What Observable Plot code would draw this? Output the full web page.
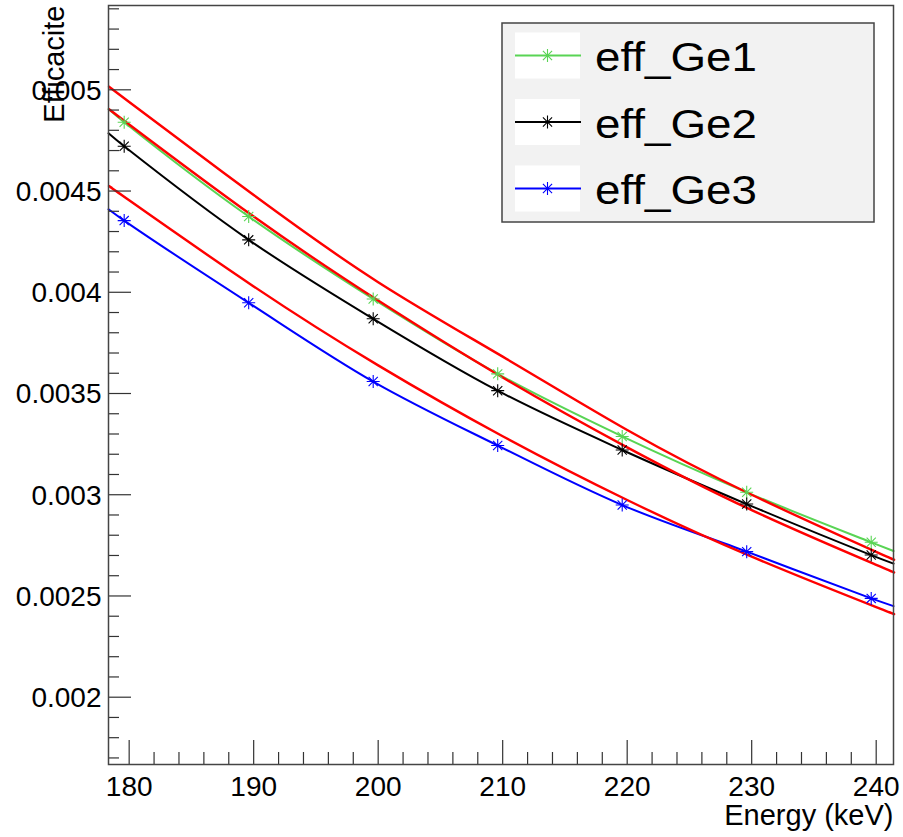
<!DOCTYPE html>
<html>
<head>
<meta charset="utf-8">
<script src="https://cdn.jsdelivr.net/npm/d3@7"></script>
<script src="https://cdn.jsdelivr.net/npm/@observablehq/plot@0.6"></script>
<style>
  html, body { margin: 0; padding: 0; background: #fff; }
  #chart { width: 903px; height: 837px; }
</style>
</head>
<body>
<div id="chart"></div>
<script>
// ---- data ----
const energies = [179.6, 189.6, 199.6, 209.6, 219.6, 229.6, 239.6];
const effGe1 = [0.004840, 0.004374, 0.003967, 0.003597, 0.003288, 0.003012, 0.002765];
const effGe2 = [0.004721, 0.004259, 0.003869, 0.003514, 0.003221, 0.002954, 0.002702];
const effGe3 = [0.004354, 0.003948, 0.003559, 0.003243, 0.002949, 0.002719, 0.002488];
// curve values where each graph line meets the frame (left, right)
const edgeX = [178.34, 241.39];
const edgeGe1 = [0.004905, 0.002722];
const edgeGe2 = [0.004785, 0.002660];
const edgeGe3 = [0.004410, 0.002450];
// red fit curves
const fitX = [178.6, 180, 190, 200, 210, 220, 230, 240, 241.05];
const fitA = [0.005005, 0.004940, 0.004480, 0.004050, 0.003682, 0.003320, 0.003000, 0.002718, 0.002690];
const fitB = [0.004894, 0.004829, 0.004374, 0.003959, 0.003579, 0.003234, 0.002924, 0.002654, 0.002626];
const fitC = [0.004516, 0.004454, 0.004029, 0.003639, 0.003289, 0.002974, 0.002694, 0.002445, 0.002420];
const seriesNames = ["eff_Ge1", "eff_Ge2", "eff_Ge3"];
const seriesColors = ["#59d454", "#000000", "#0000ff"];
const xTickValues = [180, 190, 200, 210, 220, 230, 240];
const xTickLabels = ["180", "190", "200", "210", "220", "230", "240"];
const yTickValues = [0.002, 0.0025, 0.003, 0.0035, 0.004, 0.0045, 0.005];
const yTickLabels = ["0.002", "0.0025", "0.003", "0.0035", "0.004", "0.0045", "0.005"];
const xTitle = "Energy (keV)";
const yTitle = "Efficacite";

// ---- layout ----
const W = 903, H = 837, mL = 108, mR = 10, mT = 5, mB = 73;
const xDomain = [178.34, 241.39];
const yDomain = [0.0016676, 0.0054164];
const kx = (xDomain[1] - xDomain[0]) / (W - mL - mR);
const ky = (yDomain[1] - yDomain[0]) / (H - mT - mB);

const xMinor = d3.range(180, 241.4, 2).filter(v => v % 10 !== 0);
const yMinor = d3.range(17, 55).map(v => v / 10000).filter(v => Math.round(v * 10000) % 5 !== 0);

// build tables
const graphPts = [], graphLines = [];
[effGe1, effGe2, effGe3].forEach((arr, s) => {
  const edges = [edgeGe1, edgeGe2, edgeGe3][s];
  graphLines.push({s, x: edgeX[0], y: edges[0]});
  arr.forEach((v, i) => {
    graphPts.push({s, x: energies[i], y: v});
    graphLines.push({s, x: energies[i], y: v});
  });
  graphLines.push({s, x: edgeX[1], y: edges[1]});
});
const fitLines = [];
[fitA, fitB, fitC].forEach((arr, s) => arr.forEach((v, i) => fitLines.push({s, x: fitX[i], y: v})));

// ROOT-like star marker (+ and x)
const star = {
  draw(context, size) {
    const r = Math.sqrt(size / Math.PI);
    const d = r * 0.7071;
    context.moveTo(-r, 0); context.lineTo(r, 0);
    context.moveTo(0, -r); context.lineTo(0, r);
    context.moveTo(-d, -d); context.lineTo(d, d);
    context.moveTo(-d, d); context.lineTo(d, -d);
  }
};

const font = "'Liberation Sans', Arial, Helvetica, sans-serif";

const plot = Plot.plot({
  width: W, height: H,
  marginLeft: mL, marginRight: mR, marginTop: mT, marginBottom: mB,
  x: {type: "linear", domain: xDomain, axis: null},
  y: {type: "linear", domain: yDomain, axis: null},
  style: {fontFamily: font, background: "#fff", color: "#000"},
  marks: [
    Plot.line(graphLines, {x: "x", y: "y", z: "s", stroke: d => seriesColors[d.s], strokeWidth: 2, curve: "catmull-rom"}),
    Plot.line(fitLines, {x: "x", y: "y", z: "s", stroke: "#ff0000", strokeWidth: 2.4, curve: "natural"}),
    Plot.dot(graphPts, {x: "x", y: "y", symbol: star, r: 6.5, stroke: d => seriesColors[d.s], strokeWidth: 1.1, fill: "none"}),
    Plot.ruleX(xTickValues, {x: d => d, y1: yDomain[0], y2: yDomain[0] + 24 * ky, stroke: "#333", strokeWidth: 1.2}),
    Plot.ruleX(xMinor, {x: d => d, y1: yDomain[0], y2: yDomain[0] + 12 * ky, stroke: "#333", strokeWidth: 1.2}),
    Plot.ruleY(yTickValues, {y: d => d, x1: xDomain[0], x2: xDomain[0] + 23 * kx, stroke: "#333", strokeWidth: 1.2}),
    Plot.ruleY(yMinor, {y: d => d, x1: xDomain[0], x2: xDomain[0] + 11 * kx, stroke: "#333", strokeWidth: 1.2}),
    Plot.text(xTickValues, {x: d => d, y: yDomain[0], text: (d, i) => xTickLabels[i], dy: 31, lineAnchor: "bottom", fontSize: 28, fill: "#000"}),
    Plot.text(yTickValues, {x: xDomain[0], y: d => d, text: (d, i) => yTickLabels[i], dx: -7, dy: 1, textAnchor: "end", lineAnchor: "middle", fontSize: 28, fill: "#000"}),
    Plot.text([xTitle], {x: xDomain[1], y: yDomain[0], text: d => d, dy: 60, textAnchor: "end", lineAnchor: "bottom", fontSize: 29, fill: "#000"}),
    Plot.text([yTitle], {x: xDomain[0], y: yDomain[1], text: d => d, dx: -45, rotate: -90, textAnchor: "end", lineAnchor: "bottom", fontSize: 29, fill: "#000"}),
    Plot.frame({stroke: "#444", strokeWidth: 1.5})
  ]
});

// legend (ROOT TLegend style)
const svg = d3.select(plot);
const lg = svg.append("g").attr("class", "legend").attr("text-anchor", "start");
lg.append("rect").attr("x", 502).attr("y", 23).attr("width", 372).attr("height", 199)
  .attr("fill", "#f2f2f2").attr("stroke", "#444").attr("stroke-width", 1.5);
const rowsY = [55.5, 122, 188.5];
seriesNames.forEach((name, i) => {
  const cy = rowsY[i];
  lg.append("rect").attr("x", 515).attr("y", cy - 23).attr("width", 65).attr("height", 46).attr("fill", "#fff");
  lg.append("line").attr("x1", 515).attr("x2", 581).attr("y1", cy).attr("y2", cy)
    .attr("stroke", seriesColors[i]).attr("stroke-width", 2);
  lg.append("path").attr("transform", `translate(547.5,${cy})`)
    .attr("d", d3.symbol(star, Math.PI * 42)())
    .attr("stroke", seriesColors[i]).attr("stroke-width", 1.1).attr("fill", "none");
  lg.append("text").attr("x", 595).attr("y", cy + 15.5)
    .attr("text-anchor", "start")
    .attr("font-size", 40).attr("font-family", font).attr("fill", "#000")
    .attr("textLength", 162).attr("lengthAdjust", "spacingAndGlyphs")
    .text(name);
});

document.getElementById("chart").appendChild(plot);
</script>
</body>
</html>
